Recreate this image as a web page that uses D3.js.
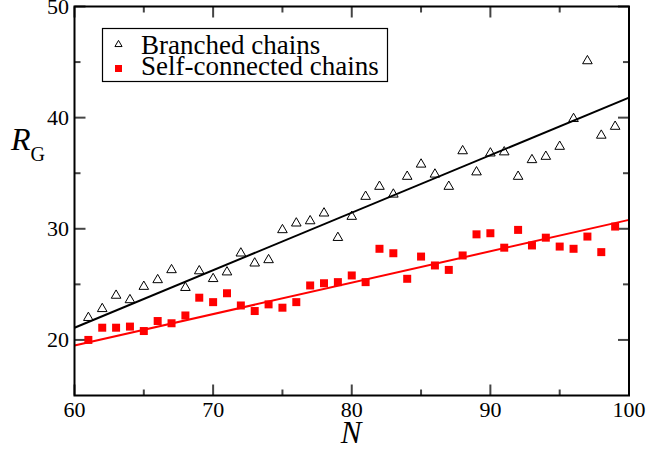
<!DOCTYPE html>
<html><head><meta charset="utf-8">
<script src="https://d3js.org/d3.v7.min.js"></script>
<style>body{margin:0;background:#fff}svg{display:block}</style>
</head><body>
<script>
const N = [61,62,63,64,65,66,67,68,69,70,71,72,73,74,75,76,77,78,79,80,81,82,83,84,85,86,87,88,89,90,91,92,93,94,95,96,97,98,99];
const branched = [22.0,22.8,24.0,23.6,24.8,25.4,26.3,24.7,26.2,25.5,26.1,27.8,26.9,27.2,29.9,30.5,30.7,31.4,29.2,31.1,32.9,33.8,33.1,34.7,35.8,34.9,33.8,37.0,35.1,36.8,36.9,34.7,36.2,36.5,37.4,39.9,45.1,38.4,39.2];
const selfConn = [20.0,21.1,21.1,21.2,20.8,21.7,21.5,22.2,23.8,23.4,24.2,23.1,22.6,23.2,22.9,23.4,24.9,25.1,25.2,25.8,25.2,28.2,27.8,25.5,27.5,26.7,26.3,27.6,29.5,29.6,28.3,29.9,28.5,29.2,28.4,28.2,29.3,27.9,30.2];
const fitN = [60,100];
const branchedFit = [21.1,41.8];
const selfFit = [19.5,30.8];
const xTicks = [60,70,80,90,100];
const xMinor = [65,75,85,95];
const yTicks = [20,30,40,50];
const yMinor = [25,35,45];
const legendLabels = ["Branched chains","Self-connected chains"];

const W=648,H=450;
const FONT="'Liberation Serif', 'DejaVu Serif', serif";
const m={l:74.5,r:629,t:6.5,b:395.5};
const svg=d3.select("body").append("svg").attr("width",W).attr("height",H)
  .attr("font-family",FONT);
const x=d3.scaleLinear().domain([60,100]).range([m.l,m.r]);
const y=d3.scaleLinear().domain([15,50]).range([m.b,m.t]);

// ticks (inward, all four sides)
const tk=svg.append("g").attr("stroke","#444").attr("stroke-width",2);
function xt(v,len){
  tk.append("line").attr("x1",x(v)).attr("x2",x(v)).attr("y1",m.b).attr("y2",m.b-len);
  tk.append("line").attr("x1",x(v)).attr("x2",x(v)).attr("y1",m.t).attr("y2",m.t+len);
}
function yt(v,len){
  tk.append("line").attr("y1",y(v)).attr("y2",y(v)).attr("x1",m.l).attr("x2",m.l+len);
  tk.append("line").attr("y1",y(v)).attr("y2",y(v)).attr("x1",m.r).attr("x2",m.r-len);
}
xTicks.forEach(v=>xt(v,11)); xMinor.forEach(v=>xt(v,6));
yTicks.forEach(v=>yt(v,11)); yMinor.forEach(v=>yt(v,6));

// fit lines
const line=d3.line().x(d=>x(d[0])).y(d=>y(d[1]));
svg.append("path").attr("d",line(fitN.map((n,i)=>[n,branchedFit[i]]))).attr("stroke","#000").attr("stroke-width",2).attr("fill","none");
svg.append("path").attr("d",line(fitN.map((n,i)=>[n,selfFit[i]]))).attr("stroke","#ff0000").attr("stroke-width",2).attr("fill","none");

// markers
const tri=d3.symbol(d3.symbolTriangle,40)();
const sq=d3.symbol(d3.symbolSquare,64)();
svg.append("g").selectAll("path").data(N.map((n,i)=>[n,branched[i]])).join("path")
  .attr("d",tri).attr("transform",d=>`translate(${x(d[0])},${y(d[1])})`)
  .attr("fill","none").attr("stroke","#000").attr("stroke-width",1);
svg.append("g").selectAll("path").data(N.map((n,i)=>[n,selfConn[i]])).join("path")
  .attr("d",sq).attr("transform",d=>`translate(${x(d[0])},${y(d[1])})`)
  .attr("fill","#ff0000");

// frame
svg.append("rect").attr("x",m.l).attr("y",m.t).attr("width",m.r-m.l).attr("height",m.b-m.t)
  .attr("fill","none").attr("stroke","#000").attr("stroke-width",2);

// tick labels
svg.append("g").selectAll("text").data(xTicks).join("text")
  .attr("x",d=>x(d)).attr("y",417).attr("text-anchor","middle").attr("font-size",22).text(d=>d);
svg.append("g").selectAll("text").data(yTicks).join("text")
  .attr("x",69).attr("y",d=>y(d)+7.5).attr("text-anchor","end").attr("font-size",22).text(d=>d);

// axis titles
svg.append("text").attr("x",351).attr("y",443).attr("text-anchor","middle").attr("font-size",31).attr("font-style","italic").text("N");
const rt=svg.append("text").attr("x",11).attr("y",150).attr("font-size",32);
rt.append("tspan").attr("font-style","italic").text("R");
rt.append("tspan").attr("font-size",20).attr("dy",11).text("G");

// legend
svg.append("rect").attr("x",102.5).attr("y",28.5).attr("width",285).attr("height",53).attr("fill","#fff").attr("stroke","#000").attr("stroke-width",1.2);
svg.append("path").attr("d",d3.symbol(d3.symbolTriangle,22)()).attr("transform","translate(118.5,44.5)").attr("fill","none").attr("stroke","#000").attr("stroke-width",1);
svg.append("path").attr("d",d3.symbol(d3.symbolSquare,49)()).attr("transform","translate(118.5,68.5)").attr("fill","#ff0000");
svg.append("text").attr("x",141).attr("y",53.5).attr("font-size",27).text(legendLabels[0]);
svg.append("text").attr("x",141).attr("y",74.5).attr("font-size",27).text(legendLabels[1]);
</script>
</body></html>
